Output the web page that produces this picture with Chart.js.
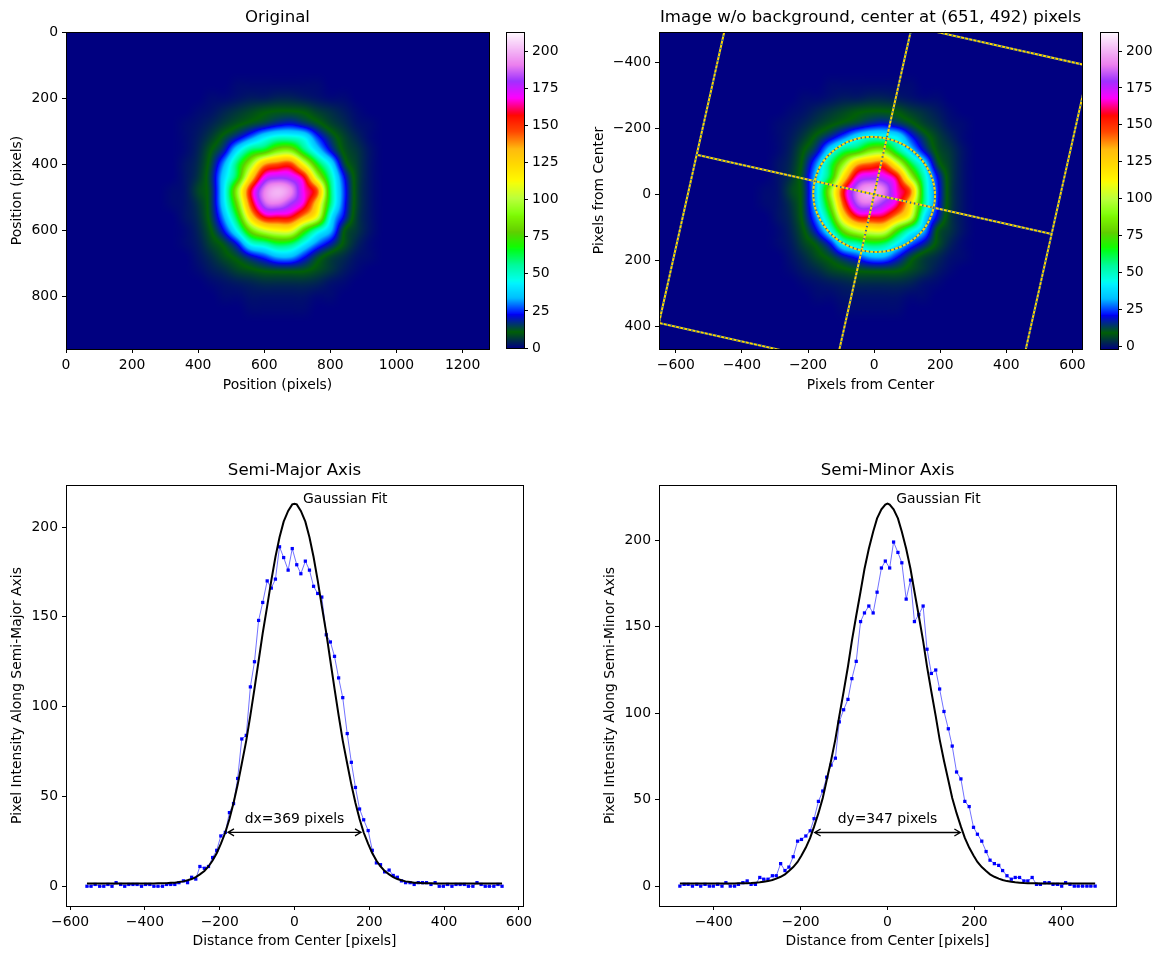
<!DOCTYPE html>
<html>
<head>
<meta charset="utf-8">
<script src="https://cdn.jsdelivr.net/npm/chart.js@4"></script>
<style>
body { margin: 0; background: #fff; }
canvas { position: absolute; }
</style>
</head>
<body>
<canvas id="orig"></canvas>
<canvas id="origBar"></canvas>
<canvas id="clean"></canvas>
<canvas id="cleanBar"></canvas>
<canvas id="major"></canvas>
<canvas id="minor"></canvas>
<script>
// beam image, estimated on a coarse grid (rows top to bottom), pixel units of the camera
const gridX = [280,320,360,400,440,480,520,560,600,640,680,720,760,800,840,880,920,960,1000,1040];
const gridY = [120,160,200,240,280,320,360,400,440,480,520,560,600,640,680,720,760,800,840,880];
const beam = [
  [0,0,0,0,0,0,0,0,0,0,0,0,0,0,0,0,0,0,0,0],
  [0,0,0,0,0,0,1,1,1,1,1,1,1,0,0,0,0,0,0,0],
  [0,0,0,0,1,1,2,3,3,4,4,3,2,1,1,0,0,0,0,0],
  [0,0,0,1,2,4,6,8,10,11,11,10,7,5,3,1,0,0,0,0],
  [0,0,1,2,4,7,10,13,16,20,22,18,13,8,5,2,1,0,0,0],
  [0,0,1,3,7,13,20,30,42,50,50,44,26,15,8,4,1,0,0,0],
  [0,0,1,4,11,20,42,62,70,88,90,62,40,22,10,6,2,0,0,0],
  [0,0,2,5,14,33,62,95,135,145,148,110,68,42,15,7,2,0,0,0],
  [0,0,2,6,16,40,68,125,170,178,175,158,100,55,24,8,2,0,0,0],
  [0,1,2,8,15,44,95,158,190,200,192,168,145,62,27,8,2,0,0,0],
  [0,1,2,6,15,42,85,150,185,190,180,165,125,60,26,8,2,0,0,0],
  [0,0,2,5,14,34,68,125,158,160,158,135,108,45,22,7,2,0,0,0],
  [0,0,1,4,11,24,48,85,105,113,112,78,52,35,12,6,2,0,0,0],
  [0,0,1,3,8,13,24,48,55,65,62,45,30,20,10,4,1,0,0,0],
  [0,0,0,2,5,9,13,20,26,34,34,24,14,8,5,2,1,0,0,0],
  [0,0,0,1,3,5,8,10,12,13,13,12,9,6,3,1,0,0,0,0],
  [0,0,0,0,1,2,3,4,5,5,5,5,4,2,1,0,0,0,0,0],
  [0,0,0,0,0,1,1,2,2,2,2,2,1,1,0,0,0,0,0,0],
  [0,0,0,0,0,0,0,1,1,1,1,1,0,0,0,0,0,0,0,0],
  [0,0,0,0,0,0,0,0,0,0,0,0,0,0,0,0,0,0,0,0]
];
const centerX = 651, centerY = 492, backgroundLevel = 2;

// profile along the semi-major axis
const majorX = [-555,-544,-533,-521,-510,-499,-488,-477,-465,-454,-443,-432,-421,-409,-398,-387,-376,-365,-353,-342,-331,-320,-309,-297,-286,-275,-264,-253,-241,-230,-219,-208,-197,-185,-174,-163,-152,-141,-129,-118,-107,-96,-85,-73,-62,-51,-40,-29,-17,-6,6,17,29,40,51,62,73,85,96,107,118,129,141,152,163,174,185,197,208,219,230,241,253,264,275,286,297,309,320,331,342,353,365,376,387,398,409,421,432,443,454,465,477,488,499,510,521,533,544,555];
const majorY = [0,0,1,0,0,1,0,2,1,0,1,1,1,0,1,1,0,0,0,1,1,1,2,3,2,5,4,11,10,11,16,20,28,30,41,46,60,82,84,111,125,148,158,170,166,171,189,183,176,188,179,174,181,176,167,163,161,140,136,128,116,105,85,69,55,43,37,31,20,13,12,8,9,6,5,3,2,2,1,2,2,2,1,2,0,0,1,0,1,1,1,0,0,2,1,0,0,0,1,0];
// fitted curve, same x positions with the peak at 0 in the middle
const majorFit = [1.5,1.5,1.5,1.5,1.5,1.5,1.5,1.5,1.5,1.5,1.5,1.5,1.5,1.5,1.5,1.5,1.5,1.6,1.6,1.7,1.9,2,2.3,2.7,3.3,4,5.1,6.6,8.5,11,14.3,18.4,23.6,29.9,37.4,46.3,56.6,68.2,81.1,95.1,110,125.4,140.9,156,170.3,183.3,194.3,203,209,212.6,213,212.6,209,203,194.3,183.3,170.3,156,140.9,125.4,110,95.1,81.1,68.2,56.6,46.3,37.4,29.9,23.6,18.4,14.3,11,8.5,6.6,5.1,4,3.3,2.7,2.3,2,1.9,1.7,1.6,1.6,1.5,1.5,1.5,1.5,1.5,1.5,1.5,1.5,1.5,1.5,1.5,1.5,1.5,1.5,1.5,1.5,1.5];

// profile along the semi-minor axis
const minorX = [-478,-468,-459,-449,-439,-430,-420,-410,-401,-391,-381,-372,-362,-352,-343,-333,-323,-314,-304,-294,-285,-275,-265,-256,-246,-236,-227,-217,-207,-198,-188,-178,-169,-159,-149,-140,-130,-120,-111,-101,-91,-82,-72,-62,-53,-43,-33,-24,-14,-5,5,14,24,33,43,53,62,72,82,91,101,111,120,130,140,149,159,169,178,188,198,207,217,227,236,246,256,265,275,285,294,304,314,323,333,343,352,362,372,381,391,401,410,420,430,439,449,459,468,478];
const minorY = [0,1,1,0,1,0,1,0,0,1,0,2,0,0,1,2,3,1,1,5,4,4,6,6,13,9,11,17,26,27,29,32,39,49,55,63,70,74,95,102,108,120,130,153,158,162,158,170,184,188,184,199,193,187,166,177,153,157,162,137,123,125,114,101,91,81,66,62,49,46,34,30,26,20,15,13,12,9,6,4,5,5,3,3,5,1,1,2,2,1,1,0,2,1,0,0,0,0,0,0];
const minorFit = [1.5,1.5,1.5,1.5,1.5,1.5,1.5,1.5,1.5,1.5,1.5,1.5,1.5,1.5,1.6,1.6,1.7,1.8,2,2.2,2.5,2.9,3.5,4.3,5.4,6.8,8.7,11,14,17.7,22.3,27.9,34.4,42.2,51,61.2,72.5,84.9,98.3,112.4,127,141.8,156.4,170.4,183.4,195.1,205,212.7,217.9,220.7,221.3,220.7,217.9,212.7,205,195.1,183.4,170.4,156.4,141.8,127,112.4,98.3,84.9,72.5,61.2,51,42.2,34.4,27.9,22.3,17.7,14,11,8.7,6.8,5.4,4.3,3.5,2.9,2.5,2.2,2,1.8,1.7,1.6,1.6,1.5,1.5,1.5,1.5,1.5,1.5,1.5,1.5,1.5,1.5,1.5,1.5,1.5,1.5];

// overlay of the second panel, pixels from center
const rectX = [-423,651,423,-651,-423];
const rectY = [-629,-389,629,389,-629];
const majorAxisX = [-537,537];
const majorAxisY = [-120,120];
const minorAxisX = [-114,114];
const minorAxisY = [509,-509];
const ellipseDx = 369, ellipseDy = 347, ellipseAngle = 12.6;

// tick labels
const origXTicks = [0,200,400,600,800,1000,1200];
const origYTicks = [0,200,400,600,800];
const cleanXTicks = [-600,-400,-200,0,200,400,600];
const cleanYTicks = [-400,-200,0,200,400];
const barTicks = [0,25,50,75,100,125,150,175,200];
const majorXTicks = [-600,-400,-200,0,200,400,600];
const minorXTicks = [-400,-200,0,200,400];
const profileYTicks = [0,50,100,150,200];

// gist_ncar colour map
const mapR = [[0,0],[.3098,0],[.3725,.3993],[.4235,.5003],[.5333,1],[.7922,1],[.8471,.6218],[.898,.9235],[1,.9961]];
const mapG = [[0,0],[.051,.3722],[.1059,0],[.1569,.7202],[.1608,.7537],[.1647,.7752],[.2157,1],[.2588,.9804],[.2706,.9804],[.3176,1],[.3686,.8081],[.4275,1],[.5216,1],[.6314,.7292],[.6863,.2796],[.7451,0],[.7922,0],[.8431,.1753],[.898,.5],[1,.9725]];
const mapB = [[0,.502],[.051,.0222],[.1098,1],[.2039,1],[.2627,.6145],[.3216,0],[.4157,0],[.4745,.2342],[.5333,0],[.5804,0],[.6314,.0549],[.6902,0],[.7373,0],[.7922,.9738],[.8,1],[.8431,1],[.898,.9341],[1,.9961]];

const FONT = '"DejaVu Sans"';
const TICK = 13.9, TITLE = 16.6;
const DOT_BLUE = '#2a68a0', LINE_YELLOW = '#ffd700';

const ramp = (stops, t) => {
    for (let i = 1; i < stops.length; i++) {
        if (t <= stops[i][0]) {
            const a = stops[i - 1], b = stops[i];
            return a[1] + (b[1] - a[1]) * (t - a[0]) / (b[0] - a[0]);
        }
    }
    return stops[stops.length - 1][1];
};
const colormap = (t) => {
    t = Math.min(1, Math.max(0, t));
    return [ramp(mapR, t) * 255, ramp(mapG, t) * 255, ramp(mapB, t) * 255];
};

// smooth (bicubic) lookup in the estimated grid, like imshow with interpolation
const cubic = (p0, p1, p2, p3, t) =>
    p1 + 0.5 * t * (p2 - p0 + t * (2 * p0 - 5 * p1 + 4 * p2 - p3 + t * (3 * (p1 - p2) + p3 - p0)));
const cellAt = (iy, ix) => {
    const row = beam[Math.min(gridY.length - 1, Math.max(0, iy))];
    return row[Math.min(gridX.length - 1, Math.max(0, ix))];
};
const sampleBeam = (x, y) => {
    const stepX = gridX[1] - gridX[0], stepY = gridY[1] - gridY[0];
    const fx = (x - gridX[0]) / stepX, fy = (y - gridY[0]) / stepY;
    const ix = Math.floor(fx), iy = Math.floor(fy);
    if (ix < 0 || iy < 0 || ix >= gridX.length - 1 || iy >= gridY.length - 1) return 0;
    const dx = fx - ix, dy = fy - iy, rows = [];
    for (let r = -1; r <= 2; r++) {
        rows.push(cubic(cellAt(iy + r, ix - 1), cellAt(iy + r, ix), cellAt(iy + r, ix + 1), cellAt(iy + r, ix + 2), dx));
    }
    return Math.max(0, cubic(rows[0], rows[1], rows[2], rows[3], dy));
};

const paintImage = (chart, offX, offY, level, vmin, vmax) => {
    const { left, top, width, height } = chart.chartArea;
    const w = Math.round(width), h = Math.round(height);
    const img = chart.ctx.createImageData(w, h);
    for (let j = 0; j < h; j++) {
        const y = chart.scales.y.getValueForPixel(top + j + 0.5) + offY;
        for (let i = 0; i < w; i++) {
            const x = chart.scales.x.getValueForPixel(left + i + 0.5) + offX;
            const c = colormap((sampleBeam(x, y) - level - vmin) / (vmax - vmin));
            const k = (j * w + i) * 4;
            img.data[k] = c[0]; img.data[k + 1] = c[1]; img.data[k + 2] = c[2]; img.data[k + 3] = 255;
        }
    }
    chart.ctx.putImageData(img, left, top);
};

const imagePlugin = (offX, offY, level, vmin, vmax) => ({
    id: 'beamImage',
    beforeDraw(chart) { paintImage(chart, offX, offY, level, vmin, vmax); }
});

const barPlugin = (vmin, vmax) => ({
    id: 'colorBar',
    beforeDraw(chart) {
        const { left, width, top, bottom } = chart.chartArea, ctx = chart.ctx;
        for (let py = Math.round(top); py < bottom; py++) {
            const v = chart.scales.y.getValueForPixel(py + 0.5);
            const c = colormap((v - vmin) / (vmax - vmin));
            ctx.fillStyle = `rgb(${c[0]},${c[1]},${c[2]})`;
            ctx.fillRect(left, py, width, 1);
        }
    }
});

// closed box round every axes
const framePlugin = {
    id: 'frame',
    afterDraw(chart) {
        const { left, top, right, bottom } = chart.chartArea, ctx = chart.ctx;
        ctx.save();
        ctx.strokeStyle = '#000';
        ctx.lineWidth = 1;
        ctx.strokeRect(Math.round(left) + 0.5, Math.round(top) + 0.5, Math.round(right - left), Math.round(bottom - top));
        ctx.restore();
    }
};

const ellipsePlugin = {
    id: 'fitEllipse',
    afterDatasetsDraw(chart) {
        const { x, y } = chart.scales, ctx = chart.ctx;
        const cx = x.getPixelForValue(0), cy = y.getPixelForValue(0);
        const rx = Math.abs(x.getPixelForValue(ellipseDx / 2) - cx);
        const ry = Math.abs(y.getPixelForValue(ellipseDy / 2) - cy);
        const rot = ellipseAngle * Math.PI / 180;
        ctx.save();
        ctx.lineWidth = 2;
        ctx.strokeStyle = LINE_YELLOW;
        ctx.beginPath(); ctx.ellipse(cx, cy, rx, ry, rot, 0, 2 * Math.PI); ctx.stroke();
        ctx.strokeStyle = DOT_BLUE;
        ctx.setLineDash([1.4, 2.8]);
        ctx.beginPath(); ctx.ellipse(cx, cy, rx, ry, rot, 0, 2 * Math.PI); ctx.stroke();
        ctx.restore();
    }
};

// arrow with open heads and the two text notes of a profile panel
const notesPlugin = (half, level, note, noteY, fitNoteX, fitNoteY) => ({
    id: 'notes',
    afterDatasetsDraw(chart) {
        const { x, y } = chart.scales, ctx = chart.ctx;
        const x0 = x.getPixelForValue(-half) + 2.5, x1 = x.getPixelForValue(half) - 2.5, py = y.getPixelForValue(level);
        ctx.save();
        ctx.strokeStyle = '#000';
        ctx.lineWidth = 1.3;
        ctx.beginPath();
        ctx.moveTo(x0, py); ctx.lineTo(x1, py);
        ctx.moveTo(x0 + 6, py - 3.5); ctx.lineTo(x0, py); ctx.lineTo(x0 + 6, py + 3.5);
        ctx.moveTo(x1 - 6, py - 3.5); ctx.lineTo(x1, py); ctx.lineTo(x1 - 6, py + 3.5);
        ctx.stroke();
        ctx.fillStyle = '#000';
        ctx.font = `${TICK}px ${FONT}`;
        ctx.textBaseline = 'middle';
        ctx.textAlign = 'center';
        ctx.fillText(note, x.getPixelForValue(0), y.getPixelForValue(noteY));
        ctx.textAlign = 'left';
        ctx.fillText('Gaussian Fit', x.getPixelForValue(fitNoteX), y.getPixelForValue(fitNoteY));
        ctx.restore();
    }
});

const fmt = (v) => String(v).replace('-', '\u2212');

const axis = (pos, min, max, ticks, label, size, extra) => Object.assign({
    type: 'linear',
    position: pos,
    min: min,
    max: max,
    grid: { drawOnChartArea: false, tickLength: 4, tickColor: '#000', tickWidth: 1 },
    border: { display: true, color: '#000', width: 1 },
    ticks: { color: '#000', font: { family: FONT, size: TICK }, padding: 4, autoSkip: false, maxRotation: 0, callback: fmt },
    title: { display: !!label, text: label, color: '#000', font: { family: FONT, size: TICK }, padding: { top: 2, bottom: 2 } },
    afterBuildTicks(s) { s.ticks = ticks.map((v) => ({ value: v })); },
    afterFit(s) {
        if (pos === 'bottom') s.height = size; else s.width = size;
        s.paddingLeft = s.paddingRight = s.paddingTop = s.paddingBottom = 0;
    }
}, extra || {});

// canvas placed so that the plot box lands on left..right, top..bottom
const panel = (id, box, cfg) => {
    const canvas = document.getElementById(id);
    const isBar = !!cfg.axisRight;
    const padR = isBar ? 0 : 14, padB = isBar ? 10 : 0, axisBottom = cfg.axisBottom || 0;
    const titleH = cfg.title ? 24 : 0, axisLeft = cfg.axisLeft;
    const W = box.right - box.left + axisLeft + padR + (cfg.axisRight || 0);
    const H = box.bottom - box.top + axisBottom + titleH + 8 + padB;
    canvas.width = W; canvas.height = H;
    canvas.style.left = (box.left - axisLeft) + 'px';
    canvas.style.top = (box.top - titleH - 8) + 'px';
    return new Chart(canvas, {
        type: 'scatter',
        data: { datasets: cfg.datasets || [] },
        plugins: (cfg.plugins || []).concat(framePlugin),
        options: {
            responsive: false,
            animation: false,
            devicePixelRatio: 1,
            layout: { padding: { top: 8, right: padR, left: 0, bottom: padB } },
            scales: cfg.scales,
            plugins: {
                legend: { display: false },
                tooltip: { enabled: false },
                title: {
                    display: !!cfg.title, text: cfg.title, color: '#000', fullSize: false,
                    font: { family: FONT, size: TITLE, weight: 'normal', lineHeight: 20 / TITLE },
                    padding: { top: 0, bottom: 4 }
                }
            }
        }
    });
};

const pairs = (xs, ys) => xs.map((x, i) => ({ x: x, y: ys[i] }));
const hiddenX = { type: 'linear', display: false, min: 0, max: 1, afterFit(s) { s.height = 0; } };

const overlay = (xs, ys) => [
    { data: pairs(xs, ys), showLine: true, pointRadius: 0, borderColor: DOT_BLUE, borderWidth: 2, borderDash: [1.4, 2.8], order: 1 },
    { data: pairs(xs, ys), showLine: true, pointRadius: 0, borderColor: LINE_YELLOW, borderWidth: 2, order: 2 }
];

const profile = (xs, ys, fit) => {
    const fitX = xs.slice(0, 50).concat(0, xs.slice(50));
    return [
        { data: pairs(fitX, fit), showLine: true, pointRadius: 0, borderColor: '#000', borderWidth: 2, order: 1 },
        { data: pairs(xs, ys), showLine: true, pointStyle: 'rect', pointRadius: 2.3, pointBackgroundColor: '#0000ff', pointBorderWidth: 0, borderColor: 'rgba(0,0,255,0.8)', borderWidth: 0.7, order: 2 }
    ];
};

panel('orig', { left: 66, right: 489, top: 32, bottom: 349 }, {
    axisLeft: 59, axisBottom: 47, title: 'Original',
    plugins: [imagePlugin(0, 0, 0, 0, 212.5)],
    scales: {
        x: axis('bottom', 0, 1280, origXTicks, 'Position (pixels)', 47),
        y: axis('left', 0, 960, origYTicks, 'Position (pixels)', 59, { reverse: true })
    }
});
panel('origBar', { left: 506, right: 524, top: 32, bottom: 348 }, {
    axisLeft: 0, axisRight: 44,
    plugins: [barPlugin(0, 212.5)],
    scales: { x: hiddenX, y: axis('right', 0, 213, barTicks, '', 44) }
});

panel('clean', { left: 659, right: 1082, top: 32, bottom: 349 }, {
    axisLeft: 70, axisBottom: 47, title: 'Image w/o background, center at (651, 492) pixels',
    plugins: [imagePlugin(centerX, centerY, backgroundLevel, -2, 212.5), ellipsePlugin],
    datasets: [].concat(overlay(rectX, rectY), overlay(majorAxisX, majorAxisY), overlay(minorAxisX, minorAxisY)),
    scales: {
        x: axis('bottom', -651, 629, cleanXTicks, 'Pixels from Center', 47),
        y: axis('left', -492, 468, cleanYTicks, 'Pixels from Center', 70, { reverse: true })
    }
});
panel('cleanBar', { left: 1100, right: 1118, top: 32, bottom: 349 }, {
    axisLeft: 0, axisRight: 40,
    plugins: [barPlugin(-2, 212.5)],
    scales: { x: hiddenX, y: axis('right', -2, 212.9, barTicks, '', 40) }
});

panel('major', { left: 66, right: 523, top: 485, bottom: 906 }, {
    axisLeft: 59, axisBottom: 46, title: 'Semi-Major Axis',
    plugins: [notesPlugin(184.5, 30, 'dx=369 pixels', 37, 23, 215.5)],
    datasets: profile(majorX, majorY, majorFit),
    scales: {
        x: axis('bottom', -611, 611, majorXTicks, 'Distance from Center [pixels]', 46),
        y: axis('left', -11, 223.4, profileYTicks, 'Pixel Intensity Along Semi-Major Axis', 59)
    }
});
panel('minor', { left: 659, right: 1116, top: 485, bottom: 906 }, {
    axisLeft: 59, axisBottom: 46, title: 'Semi-Minor Axis',
    plugins: [notesPlugin(173.5, 31, 'dy=347 pixels', 38.7, 20, 223.5)],
    datasets: profile(minorX, minorY, minorFit),
    scales: {
        x: axis('bottom', -526, 526, minorXTicks, 'Distance from Center [pixels]', 46),
        y: axis('left', -11.5, 232, profileYTicks, 'Pixel Intensity Along Semi-Minor Axis', 59)
    }
});
</script>
</body>
</html>
